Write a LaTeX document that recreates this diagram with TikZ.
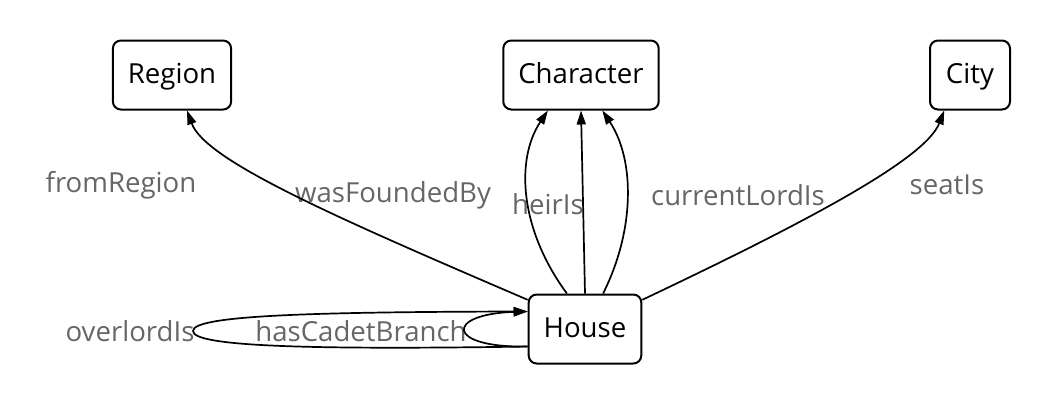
\documentclass[tikz,border=0pt]{standalone}
\usepackage{fontspec}
\setmainfont{Open Sans}
\usetikzlibrary{arrows.meta}

\definecolor{lblgray}{RGB}{102,102,102}

\begin{document}
\begin{tikzpicture}[x=0.5pt, y=-0.5pt,
		cls/.style={draw, line width=1pt, rounded corners=4pt, minimum height=34.5pt, minimum width=40pt, inner xsep=7.5pt, text height=1.08em, text depth=0.2em, font=\fontsize{13.8}{15}\selectfont},
		rel/.style={text=lblgray, font=\fontsize{13.8}{15}\selectfont},
		edge/.style={line width=0.85pt, -{Triangle[length=7pt, width=4.5pt]}}]
	\useasboundingbox (0,0) rectangle (1061,409);
	
	% 类节点
	\node[cls] (region) at (172,75) {Region};
	\node[cls] (character) at (581,75) {Character};
	\node[cls] (city) at (970,75) {City};
	\node[cls] (house) at (585,329) {House};
	
	% 关系标签
	\node[rel] (lfrom) at (121,185) {fromRegion};
	\node[rel] (lfound) at (393,195) {wasFoundedBy};
	\node[rel] (lheir) at (548,204) {heirIs};
	\node[rel] (llord) at (738,195) {currentLordIs};
	\node[rel] (lseat) at (947,185) {seatIs};
	\node[rel] (lover) at (130,331) {overlordIs};
	\node[rel] (lcadet) at (361,331) {hasCadetBranch};
	
	% 连线
	\draw[edge] (house.153) .. controls (330,215) and (205,160) .. (region.293);
	\draw[edge] (house.117) .. controls (520,230) and (515,160) .. (character.227);
	\draw[edge] (house.north) -- (character.south);
	\draw[edge] (house.63) .. controls (635,230) and (635,160) .. (character.301);
	\draw[edge] (house.27) .. controls (800,225) and (925,160) .. (city.234);
	
	% 自环
	\draw[edge] (house.197) .. controls (300,350) and (193,346) .. (193,331)
		.. controls (193,316) and (300,312) .. (house.163);
	\draw[edge] (house.197) .. controls (445,348) and (445,314) .. (house.163);
\end{tikzpicture}
\end{document}
